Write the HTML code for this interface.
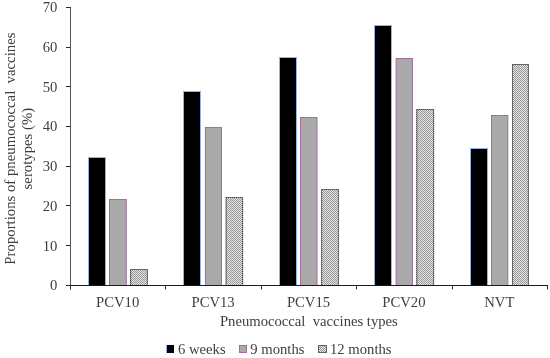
<!DOCTYPE html>
<html><head><meta charset="utf-8"><style>
html,body{margin:0;padding:0;background:#fff;}
svg{display:block;will-change:transform;}
text{font-family:"Liberation Serif", serif;font-size:14.67px;fill:#3e3e3e;}
</style></head><body>
<svg width="550" height="358" viewBox="0 0 550 358">
<defs><pattern id="hp" width="2" height="2" patternUnits="userSpaceOnUse"><rect width="2" height="2" fill="#e4e4e4"/><rect width="1" height="1" fill="#999999"/><rect x="1" y="1" width="1" height="1" fill="#999999"/></pattern></defs>
<rect x="88" y="157" width="18" height="128" fill="#92b6e0"/>
<rect x="89" y="158" width="16" height="127" fill="#000"/>
<rect x="109.5" y="199.5" width="16.80" height="86" fill="#a9a9a9" stroke="#a06fa0" stroke-width="1"/>
<rect x="130.6" y="269.5" width="16.80" height="16" fill="url(#hp)" stroke="#8c8c8c" stroke-width="1"/>
<rect x="130.6" y="269.5" width="16.80" height="16" fill="none" stroke="#3a3a3a" stroke-width="1" stroke-dasharray="1 1"/>
<rect x="183" y="91" width="18" height="194" fill="#92b6e0"/>
<rect x="184" y="92" width="16" height="193" fill="#000"/>
<rect x="205.4" y="127.5" width="16.10" height="158" fill="#a9a9a9" stroke="#a06fa0" stroke-width="1"/>
<rect x="226.1" y="197.5" width="16.50" height="88" fill="url(#hp)" stroke="#8c8c8c" stroke-width="1"/>
<rect x="226.1" y="197.5" width="16.50" height="88" fill="none" stroke="#3a3a3a" stroke-width="1" stroke-dasharray="1 1"/>
<rect x="279" y="57" width="18" height="228" fill="#92b6e0"/>
<rect x="280" y="58" width="16" height="227" fill="#000"/>
<rect x="300.5" y="117.5" width="16.50" height="168" fill="#a9a9a9" stroke="#a06fa0" stroke-width="1"/>
<rect x="321.6" y="189.5" width="16.80" height="96" fill="url(#hp)" stroke="#8c8c8c" stroke-width="1"/>
<rect x="321.6" y="189.5" width="16.80" height="96" fill="none" stroke="#3a3a3a" stroke-width="1" stroke-dasharray="1 1"/>
<rect x="374" y="25" width="18" height="260" fill="#92b6e0"/>
<rect x="375" y="26" width="16" height="259" fill="#000"/>
<rect x="396.1" y="58.5" width="16.40" height="227" fill="#a9a9a9" stroke="#a06fa0" stroke-width="1"/>
<rect x="416.8" y="109.5" width="16.80" height="176" fill="url(#hp)" stroke="#8c8c8c" stroke-width="1"/>
<rect x="416.8" y="109.5" width="16.80" height="176" fill="none" stroke="#3a3a3a" stroke-width="1" stroke-dasharray="1 1"/>
<rect x="470" y="148" width="18" height="137" fill="#92b6e0"/>
<rect x="471" y="149" width="16" height="136" fill="#000"/>
<rect x="491.5" y="115.5" width="16.30" height="170" fill="#a9a9a9" stroke="#a06fa0" stroke-width="1"/>
<rect x="512.5" y="64.5" width="15.90" height="221" fill="url(#hp)" stroke="#8c8c8c" stroke-width="1"/>
<rect x="512.5" y="64.5" width="15.90" height="221" fill="none" stroke="#3a3a3a" stroke-width="1" stroke-dasharray="1 1"/>
<line x1="70.5" y1="7" x2="70.5" y2="289.5" stroke="#555" stroke-width="1"/>
<line x1="66" y1="285.5" x2="547.5" y2="285.5" stroke="#1a1a1a" stroke-width="1"/>
<line x1="66" y1="285.5" x2="70.5" y2="285.5" stroke="#2a2a2a" stroke-width="1"/>
<text x="57.3" y="290.30" text-anchor="end">0</text>
<line x1="66" y1="245.5" x2="70.5" y2="245.5" stroke="#2a2a2a" stroke-width="1"/>
<text x="57.3" y="250.59" text-anchor="end">10</text>
<line x1="66" y1="205.5" x2="70.5" y2="205.5" stroke="#2a2a2a" stroke-width="1"/>
<text x="57.3" y="210.88" text-anchor="end">20</text>
<line x1="66" y1="166.5" x2="70.5" y2="166.5" stroke="#2a2a2a" stroke-width="1"/>
<text x="57.3" y="171.17" text-anchor="end">30</text>
<line x1="66" y1="126.5" x2="70.5" y2="126.5" stroke="#2a2a2a" stroke-width="1"/>
<text x="57.3" y="131.46" text-anchor="end">40</text>
<line x1="66" y1="86.5" x2="70.5" y2="86.5" stroke="#2a2a2a" stroke-width="1"/>
<text x="57.3" y="91.75" text-anchor="end">50</text>
<line x1="66" y1="47.5" x2="70.5" y2="47.5" stroke="#2a2a2a" stroke-width="1"/>
<text x="57.3" y="52.04" text-anchor="end">60</text>
<line x1="66" y1="7.5" x2="70.5" y2="7.5" stroke="#2a2a2a" stroke-width="1"/>
<text x="57.3" y="12.33" text-anchor="end">70</text>
<line x1="70.5" y1="285" x2="70.5" y2="289.5" stroke="#2a2a2a" stroke-width="1"/>
<line x1="165.5" y1="285" x2="165.5" y2="289.5" stroke="#2a2a2a" stroke-width="1"/>
<line x1="261.5" y1="285" x2="261.5" y2="289.5" stroke="#2a2a2a" stroke-width="1"/>
<line x1="356.5" y1="285" x2="356.5" y2="289.5" stroke="#2a2a2a" stroke-width="1"/>
<line x1="452.5" y1="285" x2="452.5" y2="289.5" stroke="#2a2a2a" stroke-width="1"/>
<line x1="547.5" y1="285" x2="547.5" y2="289.5" stroke="#2a2a2a" stroke-width="1"/>
<text x="117.70" y="307.3" text-anchor="middle">PCV10</text>
<text x="213.10" y="307.3" text-anchor="middle">PCV13</text>
<text x="308.50" y="307.3" text-anchor="middle">PCV15</text>
<text x="403.90" y="307.3" text-anchor="middle">PCV20</text>
<text x="499.30" y="307.3" text-anchor="middle">NVT</text>
<text x="308.9" y="326.4" text-anchor="middle" xml:space="preserve">Pneumococcal  vaccines types</text>
<text style="font-size:14.78px" transform="translate(15.3,148.6) rotate(-90)" text-anchor="middle" xml:space="preserve">Proportions of pneumococcal  vaccines</text>
<text style="font-size:14.78px" transform="translate(31.5,148.6) rotate(-90)" text-anchor="middle">serotypes (%)</text>
<rect x="166" y="345" width="1" height="8" fill="#92b6e0"/>
<rect x="167" y="345" width="7" height="8" fill="#000"/>
<rect x="239.5" y="345.5" width="7" height="7" fill="#a9a9a9" stroke="#a06fa0" stroke-width="1"/>
<rect x="318.5" y="345.5" width="8" height="7" fill="url(#hp)" stroke="#8c8c8c" stroke-width="1"/>
<rect x="318.5" y="345.5" width="8" height="7" fill="none" stroke="#3a3a3a" stroke-width="1" stroke-dasharray="1 1"/>
<text x="178" y="353.9">6 weeks</text>
<text x="250.3" y="353.9">9 months</text>
<text x="330" y="353.9">12 months</text>
</svg>
</body></html>
